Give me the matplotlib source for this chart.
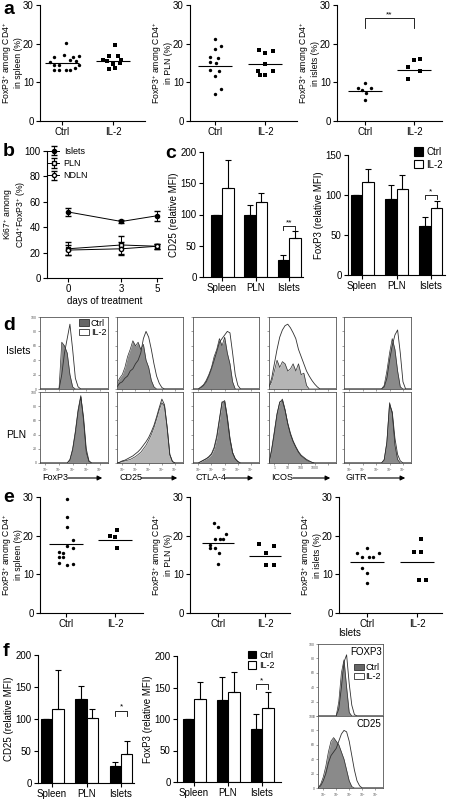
import matplotlib
matplotlib.use('Agg')
import matplotlib.pyplot as plt
import numpy as np

plt.rcParams['font.family'] = ['Liberation Sans', 'DejaVu Sans']
plt.rcParams['mathtext.fontset'] = 'custom'
plt.rcParams['mathtext.rm'] = 'Liberation Sans'
plt.rcParams['mathtext.it'] = 'Liberation Sans:italic'
plt.rcParams['font.size'] = 7

# ---------------- data ----------------
groups = ['Ctrl', 'IL-2']
tissues = ['Spleen', 'PLN', 'Islets']

# panel a  (FoxP3+ among CD4+, %)
a_spleen_ctrl = [20.3, 17.1, 16.6, 16.6, 16.8, 15.3, 15.8, 15.5, 14.5, 14.6, 14.5, 13.3, 13.1, 13.3, 13.3, 13.6]
a_spleen_ctrl_dx = [0.08, 0.03, -0.15, 0.22, 0.33, -0.23, 0.15, 0.28, -0.15, -0.05, 0.33, -0.15, -0.05, 0.07, 0.16, 0.26]
a_spleen_il2 = [19.6, 16.7, 16.7, 15.9, 15.5, 15.7, 14.7, 14.9, 13.5, 13.8]
a_spleen_il2_dx = [0.03, -0.07, 0.1, -0.2, -0.12, 0.16, 0.0, 0.13, -0.07, 0.03]
a_pln_ctrl = [21.2, 19.3, 18.6, 16.5, 16.3, 15.2, 14.9, 13.2, 13.0, 11.7, 8.4, 7.0]
a_pln_ctrl_dx = [0.0, 0.11, 0.0, -0.11, 0.05, -0.11, 0.02, -0.11, 0.07, 0.0, 0.11, 0.0]
a_pln_il2 = [18.3, 17.7, 18.0, 14.7, 13.0, 13.0, 12.0, 12.0]
a_pln_il2_dx = [-0.13, 0.0, 0.15, 0.0, -0.15, 0.15, -0.1, 0.0]
a_islets_ctrl = [9.9, 8.6, 8.5, 8.0, 7.3, 5.5]
a_islets_ctrl_dx = [0.0, -0.15, 0.12, -0.07, 0.03, 0.0]
a_islets_il2 = [15.8, 16.0, 13.9, 12.9, 10.9]
a_islets_il2_dx = [0.0, 0.13, -0.12, 0.13, -0.12]
a_medians = [[15.0, 15.6], [14.3, 14.8], [7.7, 13.3]]

# panel b  (Ki67+ among CD4+FoxP3+, %)
b_days = [0, 3, 5]
b_islets = [52, 44.5, 49]
b_islets_err = [3, 1.5, 4]
b_pln = [23, 26, 25]
b_pln_err = [5, 7, 2]
b_ndln = [22, 23, 25]
b_ndln_err = [4, 5, 2]

# panel c  (relative MFI)
c_cd25_ctrl = [100, 100, 28]
c_cd25_ctrl_err = [0, 15, 8]
c_cd25_il2 = [142, 120, 62]
c_cd25_il2_err = [46, 15, 12]
c_foxp3_ctrl = [100, 95, 61]
c_foxp3_ctrl_err = [0, 17, 11]
c_foxp3_il2 = [116, 108, 84]
c_foxp3_il2_err = [17, 17, 9]

# panel d  histograms (% of max), common channel grid (fraction of the log axis)
hx = [0.00, 0.04, 0.08, 0.12, 0.16, 0.20, 0.24, 0.28, 0.32, 0.36, 0.40, 0.44, 0.48,
      0.52, 0.56, 0.60, 0.64, 0.68, 0.72, 0.76, 0.80, 0.84, 0.88, 0.92, 0.96, 1.00]
d_markers = ['FoxP3', 'CD25', 'CTLA-4', 'ICOS', 'GITR']
isl_foxp3_ctrl = [0, 0, 0, 0, 0, 0, 0, 0, 65, 60, 50, 20, 3, 0, 0, 0, 0, 0, 0, 0, 0, 0, 0, 0, 0, 0]
isl_foxp3_il2 = [0, 0, 0, 0, 0, 0, 0, 0, 20, 50, 70, 90, 55, 15, 3, 0, 0, 0, 0, 0, 0, 0, 0, 0, 0, 0]
isl_cd25_ctrl = [8, 15, 20, 30, 45, 55, 67, 60, 65, 55, 62, 40, 30, 12, 3, 0, 0, 0, 0, 0, 0, 0, 0, 0, 0, 0]
isl_cd25_il2 = [3, 8, 10, 15, 18, 25, 28, 35, 40, 50, 70, 80, 72, 55, 35, 18, 8, 2, 0, 0, 0, 0, 0, 0, 0, 0]
isl_ctla4_ctrl = [0, 0, 0, 3, 6, 12, 20, 30, 45, 55, 70, 60, 72, 50, 35, 10, 0, 0, 0, 0, 0, 0, 0, 0, 0, 0]
isl_ctla4_il2 = [0, 0, 0, 2, 5, 10, 18, 28, 40, 52, 65, 70, 75, 80, 78, 50, 20, 5, 0, 0, 0, 0, 0, 0, 0, 0]
isl_icos_ctrl = [3, 10, 25, 40, 30, 38, 35, 25, 28, 35, 25, 35, 20, 22, 5, 0, 0, 0, 0, 0, 0, 0, 0, 0, 0, 0]
isl_icos_il2 = [3, 15, 35, 55, 72, 82, 88, 90, 85, 78, 70, 55, 45, 35, 25, 18, 12, 7, 3, 0, 0, 0, 0, 0, 0, 0]
isl_gitr_ctrl = [0, 0, 0, 0, 0, 0, 0, 0, 0, 0, 0, 0, 0, 0, 0, 5, 25, 50, 70, 55, 25, 3, 0, 0, 0, 0]
isl_gitr_il2 = [0, 0, 0, 0, 0, 0, 0, 0, 0, 0, 0, 0, 0, 0, 0, 3, 15, 40, 60, 75, 82, 50, 10, 0, 0, 0]
pln_foxp3_ctrl = [0, 0, 0, 0, 0, 0, 0, 0, 0, 0, 0, 5, 20, 45, 75, 95, 60, 15, 2, 0, 0, 0, 0, 0, 0, 0]
pln_foxp3_il2 = [0, 0, 0, 0, 0, 0, 0, 0, 0, 0, 0, 4, 18, 42, 72, 93, 65, 20, 3, 0, 0, 0, 0, 0, 0, 0]
pln_cd25_ctrl = [0, 1, 2, 3, 4, 5, 7, 9, 12, 15, 20, 25, 32, 40, 50, 62, 75, 85, 80, 50, 12, 2, 0, 0, 0, 0]
pln_cd25_il2 = [0, 1, 3, 4, 6, 8, 10, 13, 16, 20, 25, 30, 36, 44, 53, 65, 78, 90, 82, 50, 12, 2, 0, 0, 0, 0]
pln_ctla4_ctrl = [0, 0, 0, 2, 4, 6, 8, 12, 20, 35, 60, 85, 88, 65, 35, 15, 6, 2, 0, 0, 0, 0, 0, 0, 0, 0]
pln_ctla4_il2 = [0, 0, 0, 2, 4, 6, 9, 13, 22, 38, 62, 86, 86, 62, 33, 14, 6, 2, 0, 0, 0, 0, 0, 0, 0, 0]
pln_icos_ctrl = [0, 20, 45, 70, 85, 90, 75, 55, 40, 30, 22, 15, 10, 7, 4, 2, 1, 0, 0, 0, 0, 0, 0, 0, 0, 0]
pln_icos_il2 = [0, 18, 42, 68, 86, 88, 74, 56, 42, 31, 23, 16, 11, 8, 5, 3, 1, 0, 0, 0, 0, 0, 0, 0, 0, 0]
pln_gitr_ctrl = [0, 0, 0, 0, 0, 0, 0, 0, 0, 0, 0, 0, 0, 0, 0, 5, 30, 85, 70, 25, 5, 0, 0, 0, 0, 0]
pln_gitr_il2 = [0, 0, 0, 0, 0, 0, 0, 0, 0, 0, 0, 0, 0, 0, 0, 4, 28, 82, 72, 35, 12, 3, 0, 0, 0, 0]

# panel e  (FoxP3+ among CD4+, %)
e_spleen_ctrl = [29.5, 24.8, 22.2, 18.9, 17.4, 16.8, 15.8, 15.6, 14.6, 14.4, 12.9, 12.5, 12.8]
e_spleen_ctrl_dx = [0.03, 0.03, 0.03, 0.15, 0.03, 0.15, -0.15, -0.07, -0.15, -0.07, -0.15, 0.03, 0.15]
e_spleen_il2 = [21.4, 19.9, 19.7, 16.8]
e_spleen_il2_dx = [0.05, -0.1, 0.0, 0.05]
e_pln_ctrl = [23.2, 22.2, 20.4, 19.1, 19.1, 19.1, 17.6, 16.8, 16.8, 15.5, 12.7]
e_pln_ctrl_dx = [-0.09, 0.0, 0.17, -0.07, 0.05, 0.1, -0.18, -0.17, -0.07, 0.03, 0.0]
e_pln_il2 = [17.8, 17.3, 15.5, 12.3, 12.3]
e_pln_il2_dx = [-0.13, 0.19, 0.02, 0.02, 0.19]
e_islets_ctrl = [16.8, 15.5, 15.5, 14.5, 14.5, 14.5, 11.6, 10.3, 7.8]
e_islets_ctrl_dx = [0.0, -0.2, 0.23, -0.1, 0.03, 0.11, -0.1, 0.0, 0.0]
e_islets_il2 = [19.1, 15.8, 15.8, 8.5, 8.5]
e_islets_il2_dx = [0.08, -0.07, 0.08, 0.03, 0.17]
e_medians = [[17.8, 19.0], [18.0, 14.7], [13.2, 13.2]]

# panel f  (relative MFI)
f_cd25_ctrl = [100, 131, 27]
f_cd25_ctrl_err = [0, 21, 6]
f_cd25_il2 = [116, 101, 45]
f_cd25_il2_err = [60, 15, 20]
f_foxp3_ctrl = [100, 130, 84]
f_foxp3_ctrl_err = [0, 36, 24]
f_foxp3_il2 = [132, 143, 117]
f_foxp3_il2_err = [27, 32, 26]
f_hist_foxp3_ctrl = [0, 0, 0, 0, 0, 0, 0, 0, 20, 60, 78, 40, 5, 0, 0, 0, 0, 0, 0, 0, 0, 0, 0, 0, 0, 0]
f_hist_foxp3_il2 = [0, 0, 0, 0, 0, 0, 0, 0, 10, 40, 75, 85, 45, 15, 2, 0, 0, 0, 0, 0, 0, 0, 0, 0, 0, 0]
f_hist_cd25_ctrl = [0, 5, 15, 30, 50, 65, 70, 65, 60, 50, 40, 25, 10, 2, 0, 0, 0, 0, 0, 0, 0, 0, 0, 0, 0, 0]
f_hist_cd25_il2 = [0, 3, 10, 20, 35, 45, 50, 55, 65, 75, 80, 78, 65, 45, 25, 10, 3, 0, 0, 0, 0, 0, 0, 0, 0, 0]

# ---------------- figure ----------------
W, H = 449, 799
fig = plt.figure(figsize=(W / 100, H / 100), dpi=100)


def px_axes(x0, y0, x1, y1):
    return fig.add_axes([x0 / W, 1 - y1 / H, (x1 - x0) / W, (y1 - y0) / H])


def fig_xy(x, y):
    return x / W, 1 - y / H


def style(ax):
    for s in ['top', 'right']:
        ax.spines[s].set_visible(False)
    for s in ['left', 'bottom']:
        ax.spines[s].set_linewidth(0.8)
    ax.tick_params(length=3, width=0.8, labelsize=7, pad=1.5)


def ylab(ax, text, x0, x1, right_px):
    # right edge of the (rotated) label placed at right_px
    ax.set_ylabel(text, fontsize=6.2, linespacing=0.95)
    ax.yaxis.set_label_coords((right_px - x0) / (x1 - x0), 0.5)


def dot_plot(pos, ctrl, ctrl_dx, il2, il2_dx, med, ylabel):
    xs, xc, xi, xe, yt, yb = pos
    unit = xi - xc
    ax = px_axes(xs, yt, xe, yb)
    style(ax)
    ax.scatter(np.array(ctrl_dx), ctrl, s=6, marker='o', color='black', linewidths=0, zorder=3)
    ax.scatter(1 + np.array(il2_dx), il2, s=6, marker='s', color='black', linewidths=0, zorder=3)
    ax.hlines(med, [-0.34, 0.66], [0.34, 1.34], color='black', lw=0.8)
    ax.set_xlim((xs - xc) / unit, (xe - xc) / unit)
    ax.set_ylim(0, 30)
    ax.set_yticks([0, 10, 20, 30])
    ax.set_xticks([0, 1])
    ax.set_xticklabels(groups)
    ylab(ax, ylabel, xs, xe, xs - 17)
    return ax


def bar_plot(pos, ctrl, ctrl_err, il2, il2_err, ymax, step, ylabel):
    xs, x0, x2, xe, yt, yb = pos
    unit = (x2 - x0) / 2
    bw = 11.5 / unit
    ax = px_axes(xs, yt, xe, yb)
    style(ax)
    idx = np.arange(len(tissues))
    ax.bar(idx - bw / 2, ctrl, bw, color='black', edgecolor='black', lw=0.8, zorder=2)
    ax.bar(idx + bw / 2, il2, bw, color='white', edgecolor='black', lw=0.8, zorder=2)
    ax.errorbar(idx - bw / 2, ctrl, yerr=[np.zeros(3), ctrl_err], fmt='none', ecolor='black',
                elinewidth=0.8, capsize=2.5, capthick=0.8, zorder=1)
    ax.errorbar(idx + bw / 2, il2, yerr=[np.zeros(3), il2_err], fmt='none', ecolor='black',
                elinewidth=0.8, capsize=2.5, capthick=0.8, zorder=3)
    ax.set_xlim((xs - x0) / unit, (xe - x0) / unit)
    ax.set_ylim(0, ymax)
    ax.set_yticks(np.arange(0, ymax + 1, step))
    ax.set_xticks(idx)
    ax.set_xticklabels(tissues)
    ax.set_ylabel(ylabel, fontsize=7, labelpad=1.5)
    return ax, bw


def bracket(ax, x1, x2, y, h, label):
    ax.plot([x1, x1, x2, x2], [y - h, y, y, y - h], color='black', lw=0.6)
    ax.text((x1 + x2) / 2, y, label, ha='center', va='bottom', fontsize=6)


ctrl_fill = '#8a8a8a'
light_fill = '#b5b5b5'


def hist_box(x0, y0, x1, y1, ctrl, il2, fill, ylabels=False, xlabels=None):
    ax = px_axes(x0, y0, x1, y1)
    ax.fill_between(hx, ctrl, color=fill, lw=0, zorder=1)
    ax.plot(hx, ctrl, color='#303030', lw=0.5, zorder=2)
    ax.plot(hx, il2, color='#303030', lw=0.6, zorder=3)
    ax.set_xlim(0, 1)
    ax.set_ylim(0, 100)
    for s in ax.spines.values():
        s.set_linewidth(0.6)
        s.set_color('#555555')
    ax.set_yticks([0, 20, 40, 60, 80, 100])
    ax.set_xticks([0.08, 0.28, 0.48, 0.68, 0.88])
    ax.tick_params(length=1.5, width=0.4, labelsize=2.5, pad=0.8, colors='#555555')
    if ylabels:
        ax.set_yticklabels(['0', '20', '40', '60', '80', '100'])
    else:
        ax.set_yticklabels([])
    if xlabels is not None:
        ax.set_xticklabels(xlabels)
    else:
        ax.set_xticklabels([])
    return ax


def hist_legend(ax, anchor):
    ax.legend(handles=[plt.Rectangle((0, 0), 1, 1, fc='#666666', ec='#303030', lw=0.6),
                       plt.Rectangle((0, 0), 1, 1, fc='white', ec='#303030', lw=0.6)],
              labels=groups, loc='upper right', bbox_to_anchor=anchor, frameon=False,
              fontsize=6.5, handlelength=1.1, handleheight=0.7, handletextpad=0.15,
              labelspacing=0.05, borderaxespad=0.1)


# ---- panel a ----
a_pos = [(40, 62, 113, 145, 5, 121), (190, 215, 265, 297, 5, 121), (337, 365, 414, 442, 5, 121)]
a_lab = ['FoxP3$^{+}$ among CD4$^{+}$\nin spleen (%)', 'FoxP3$^{+}$ among CD4$^{+}$\nin PLN (%)',
         'FoxP3$^{+}$ among CD4$^{+}$\nin islets (%)']
dot_plot(a_pos[0], a_spleen_ctrl, a_spleen_ctrl_dx, a_spleen_il2, a_spleen_il2_dx, a_medians[0], a_lab[0])
dot_plot(a_pos[1], a_pln_ctrl, a_pln_ctrl_dx, a_pln_il2, a_pln_il2_dx, a_medians[1], a_lab[1])
ax_a3 = dot_plot(a_pos[2], a_islets_ctrl, a_islets_ctrl_dx, a_islets_il2, a_islets_il2_dx, a_medians[2], a_lab[2])
bracket(ax_a3, 0, 1, 26.6, 2.5, '**')

# ---- panel b ----
ax_b = px_axes(47, 151, 162, 278)
style(ax_b)
ax_b.errorbar(b_days, b_islets, yerr=b_islets_err, color='black', marker='o', ms=3, mfc='black',
              lw=0.7, elinewidth=0.7, capsize=2, label='Islets')
ax_b.errorbar(b_days, b_pln, yerr=b_pln_err, color='black', marker='s', ms=3, mfc='white',
              lw=0.7, elinewidth=0.7, capsize=2, label='PLN')
ax_b.errorbar(b_days, b_ndln, yerr=b_ndln_err, color='black', marker='o', ms=3, mfc='white',
              lw=0.7, elinewidth=0.7, capsize=2, label='NDLN')
ax_b.set_xlim((47 - 68) / 17.8, (162 - 68) / 17.8)
ax_b.set_ylim(0, 100)
ax_b.set_yticks([0, 20, 40, 60, 80, 100])
ax_b.set_xticks(b_days)
ax_b.set_xlabel('days of treatment', fontsize=7, labelpad=1)
ylab(ax_b, 'Ki67$^{+}$ among\nCD4$^{+}$FoxP3$^{+}$ (%)', 47, 162, 28)
ax_b.legend(loc='upper left', bbox_to_anchor=(-0.02, 1.06), frameon=False, fontsize=6.5,
            handlelength=1.2, handletextpad=0.5, labelspacing=0.35, borderaxespad=0)

# ---- panel c ----
ax_c1, bw_c1 = bar_plot((203, 222, 289, 303, 152, 277), c_cd25_ctrl, c_cd25_ctrl_err, c_cd25_il2,
                        c_cd25_il2_err, 200, 50, 'CD25 (relative MFI)')
bracket(ax_c1, 2 - bw_c1 / 2, 2 + bw_c1 / 2, 81, 6, '**')
ax_c2, bw_c2 = bar_plot((348, 362, 431, 445, 155, 275), c_foxp3_ctrl, c_foxp3_ctrl_err, c_foxp3_il2,
                        c_foxp3_il2_err, 150, 50, 'FoxP3 (relative MFI)')
bracket(ax_c2, 2 - bw_c2 / 2, 2 + bw_c2 / 2, 100, 5, '*')
ax_c2.legend(handles=[plt.Rectangle((0, 0), 1, 1, fc='black', ec='black', lw=0.8),
                      plt.Rectangle((0, 0), 1, 1, fc='white', ec='black', lw=0.8)],
             labels=groups, loc='upper left', bbox_to_anchor=((410 - 348) / 97, 1.1), frameon=False,
             fontsize=7, handlelength=0.9, handleheight=0.9, handletextpad=0.4, labelspacing=0.3,
             borderaxespad=0)

# ---- panel d ----
d_cols = [(40, 108), (117, 183), (193, 259), (269, 336), (344, 411)]
d_rows = [(317, 389), (392, 463)]
dec_labels = ['$10^0$', '$10^1$', '$10^2$', '$10^3$', '$10^4$']
icos_labels = ['1', '10', '100', '1000', '']
isl_rows = [(isl_foxp3_ctrl, isl_foxp3_il2, ctrl_fill), (isl_cd25_ctrl, isl_cd25_il2, ctrl_fill),
            (isl_ctla4_ctrl, isl_ctla4_il2, ctrl_fill), (isl_icos_ctrl, isl_icos_il2, light_fill),
            (isl_gitr_ctrl, isl_gitr_il2, ctrl_fill)]
pln_rows = [(pln_foxp3_ctrl, pln_foxp3_il2, ctrl_fill), (pln_cd25_ctrl, pln_cd25_il2, light_fill),
            (pln_ctla4_ctrl, pln_ctla4_il2, ctrl_fill), (pln_icos_ctrl, pln_icos_il2, ctrl_fill),
            (pln_gitr_ctrl, pln_gitr_il2, ctrl_fill)]
for i, (x0, x1) in enumerate(d_cols):
    c, l, f = isl_rows[i]
    axh = hist_box(x0, d_rows[0][0], x1, d_rows[0][1], c, l, f, ylabels=(i == 0))
    if i == 0:
        hist_legend(axh, (1.04, 1.04))
    c, l, f = pln_rows[i]
    hist_box(x0, d_rows[1][0], x1, d_rows[1][1], c, l, f, ylabels=(i == 0),
             xlabels=icos_labels if d_markers[i] == 'ICOS' else dec_labels)
    # marker label with arrow
    tx, ty = fig_xy(x0 + 2, 478)
    fig.text(tx, ty, d_markers[i], fontsize=6.5, ha='left', va='center')
    xa0 = x0 + 4 + 4.3 * len(d_markers[i])
    fig.add_artist(matplotlib.patches.FancyArrowPatch(fig_xy(xa0, 478), fig_xy(x1 - 3, 478),
                                                      transform=fig.transFigure, arrowstyle='-|>',
                                                      mutation_scale=7, lw=0.8, color='black'))
fig.text(*fig_xy(6, 351), 'Islets', fontsize=7.5, ha='left', va='center')
fig.text(*fig_xy(6, 435), 'PLN', fontsize=7.5, ha='left', va='center')

# ---- panel e ----
e_pos = [(40, 66, 115, 143, 497, 613), (190, 218, 265, 290, 497, 613), (339, 367, 417, 442, 497, 613)]
dot_plot(e_pos[0], e_spleen_ctrl, e_spleen_ctrl_dx, e_spleen_il2, e_spleen_il2_dx, e_medians[0], a_lab[0])
dot_plot(e_pos[1], e_pln_ctrl, e_pln_ctrl_dx, e_pln_il2, e_pln_il2_dx, e_medians[1], a_lab[1])
dot_plot(e_pos[2], e_islets_ctrl, e_islets_ctrl_dx, e_islets_il2, e_islets_il2_dx, e_medians[2], a_lab[2])

# ---- panel f ----
ax_f1, bw_f1 = bar_plot((38, 52, 121, 134, 655, 783), f_cd25_ctrl, f_cd25_ctrl_err, f_cd25_il2,
                        f_cd25_il2_err, 200, 50, 'CD25 (relative MFI)')
bracket(ax_f1, 2 - bw_f1 / 2, 2 + bw_f1 / 2, 113, 8, '*')
ax_f2, bw_f2 = bar_plot((177, 194, 262, 281, 656, 782), f_foxp3_ctrl, f_foxp3_ctrl_err, f_foxp3_il2,
                        f_foxp3_il2_err, 200, 50, 'FoxP3 (relative MFI)')
bracket(ax_f2, 2 - bw_f2 / 2, 2 + bw_f2 / 2, 155, 8, '*')
ax_f2.legend(handles=[plt.Rectangle((0, 0), 1, 1, fc='black', ec='black', lw=0.8),
                      plt.Rectangle((0, 0), 1, 1, fc='white', ec='black', lw=0.8)],
             labels=groups, loc='upper left', bbox_to_anchor=((244 - 177) / 104, 1.07), frameon=False,
             fontsize=6.5, handlelength=0.9, handleheight=0.9, handletextpad=0.4, labelspacing=0.15,
             borderaxespad=0)

axf3 = hist_box(318, 644, 383, 716, f_hist_foxp3_ctrl, f_hist_foxp3_il2, ctrl_fill, ylabels=True)
axf3.text(0.98, 0.96, 'FOXP3', transform=axf3.transAxes, ha='right', va='top', fontsize=7)
hist_legend(axf3, (1.04, 0.8))
axf4 = hist_box(318, 716, 383, 788, f_hist_cd25_ctrl, f_hist_cd25_il2, ctrl_fill, ylabels=True,
                xlabels=dec_labels)
axf4.text(0.98, 0.96, 'CD25', transform=axf4.transAxes, ha='right', va='top', fontsize=7)
fig.text(*fig_xy(350, 633), 'Islets', fontsize=7, ha='center', va='center')

# panel letters
for lab, (x, y) in zip('abcdef', [(3, 10), (3, 152), (165, 154), (3, 326), (3, 497), (3, 652)]):
    fig.text(*fig_xy(x, y), lab, fontsize=14, fontweight='bold', ha='left', va='center')

fig.savefig('out.png', dpi=100)
